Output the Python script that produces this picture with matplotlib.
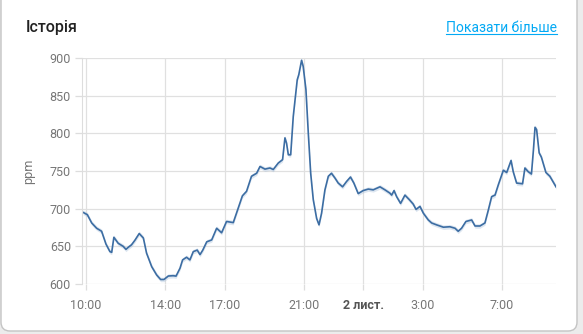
import matplotlib
matplotlib.use("Agg")
import matplotlib.pyplot as plt
import matplotlib.dates as mdates
import matplotlib.transforms as mtransforms
from matplotlib.patches import FancyBboxPatch
from matplotlib.lines import Line2D
import pandas as pd

plt.rcParams['font.family'] = ['Roboto', 'DejaVu Sans']

# CO2 readings: hours since midnight 1 Nov, ppm
hours = [9.86, 10.07, 10.29, 10.54, 10.79, 11.01, 11.21, 11.3, 11.41, 11.63,
         11.88, 12.02, 12.15, 12.3, 12.47, 12.69, 12.9, 13.06, 13.32, 13.57,
         13.77, 13.94, 14.16, 14.4, 14.55, 14.75, 14.88, 15.08, 15.25, 15.42,
         15.62, 15.76, 15.9, 16.1, 16.35, 16.6, 16.85, 17.1, 17.44, 17.69,
         17.9, 18.11, 18.36, 18.62, 18.79, 19.04, 19.29, 19.46, 19.71, 19.93,
         20.05, 20.13, 20.22, 20.34, 20.47, 20.67, 20.75, 20.8, 20.89, 20.97,
         21.11, 21.23, 21.35, 21.48, 21.65, 21.77, 21.9, 22.07, 22.24, 22.4,
         22.58, 22.74, 22.96, 23.16, 23.36, 23.53, 23.75, 24.0, 24.26, 24.51,
         24.68, 24.85, 25.1, 25.35, 25.44, 25.56, 25.69, 25.89, 26.11, 26.33,
         26.53, 26.67, 26.87, 27.04, 27.29, 27.46, 27.71, 28.05, 28.38, 28.64,
         28.8, 28.97, 29.19, 29.48, 29.65, 29.9, 30.15, 30.32, 30.49, 30.66,
         30.83, 31.08, 31.25, 31.47, 31.58, 31.75, 32.05, 32.17, 32.34, 32.5,
         32.6, 32.68, 32.76, 32.89, 33.0, 33.23, 33.43, 33.74]
ppm = [695, 692, 681, 674, 670, 653, 643, 642, 662, 654,
       650, 646, 649, 652, 658, 667, 661, 641, 623, 612,
       606, 606, 610.6, 611, 610.5, 621, 632, 635.5, 632, 643,
       645, 639, 645, 656, 658.5, 674, 668, 683, 681.5, 700.6,
       717, 723, 743, 747, 756, 752.5, 754, 752, 760.5, 765,
       794, 787, 771.5, 771.5, 822.5, 871, 878, 885, 897, 889,
       858, 800, 747, 712, 687, 678.5, 694, 725, 743, 747,
       740.5, 734, 729, 736, 742, 734, 720, 724, 726, 725,
       727, 729, 725, 720.6, 718, 724, 716, 707, 718, 712,
       706, 699, 703, 694, 685, 681, 678.5, 675.4, 676, 674,
       670, 674, 683, 685, 677, 677, 681, 698, 716, 718,
       732, 751, 748, 764, 749, 734, 733, 754, 749, 746,
       778, 808, 805, 774, 768.5, 748, 743, 729]

tick_hours = [10, 14, 17, 21, 24, 27, 31]
tick_labels = ['10:00', '14:00', '17:00', '21:00', '2 лист.', '3:00', '7:00']
y_ticks = [600, 650, 700, 750, 800, 850, 900]

base = pd.Timestamp('2023-11-01')
times = base + pd.to_timedelta(hours, unit='h')
tick_times = base + pd.to_timedelta(tick_hours, unit='h')

fig = plt.figure(figsize=(5.83, 3.34), dpi=100, facecolor='#ececec')

# card background
card = FancyBboxPatch((1, 3), 576, 400, boxstyle='round,pad=0,rounding_size=9',
                      transform=mtransforms.IdentityTransform(),
                      facecolor='white', edgecolor='#c4c4c4', linewidth=1, zorder=-10)
fig.patches.append(card)

ax = fig.add_axes([82 / 583, 50 / 334, 474 / 583, 226 / 334])
ax.set_facecolor('none')

ax.fill_between(times, [v - 3 for v in ppm], [v + 3 for v in ppm],
                color='#9fb9d6', alpha=0.35, linewidth=0)
ax.plot(times, ppm, color='#3c6da3', linewidth=1.2)

ax.set_xlim(base + pd.Timedelta(hours=9.8), base + pd.Timedelta(hours=33.74))
ax.set_ylim(600, 900)
ax.set_yticks(y_ticks)
ax.set_xticks(tick_times)
ax.set_xticklabels(tick_labels)

for s in ['top', 'right', 'bottom']:
    ax.spines[s].set_visible(False)
ax.spines['left'].set_color('#dddddd')
ax.grid(True, color='#e0e0e0', linewidth=0.9)
ax.set_axisbelow(True)
ax.tick_params(axis='both', colors='#dddddd', labelcolor='#767676', labelsize=9, width=0.9)
ax.tick_params(axis='y', length=5, pad=3)
ax.tick_params(axis='x', length=4.5, pad=6)
for lbl in ax.get_xticklabels():
    if lbl.get_text() == '2 лист.':
        lbl.set_fontweight('bold')
        lbl.set_color('#555555')

ax.set_ylabel('ppm', color='#767676', fontsize=9)
ax.yaxis.set_label_coords(-0.099, 0.5)

fig.text(26 / 583, (334 - 31.7) / 334, 'Історія', fontsize=11.5, fontweight='medium',
         color='#212121', ha='left', va='baseline')
link = fig.text(557 / 583, (334 - 31.5) / 334, 'Показати більше', fontsize=10,
                color='#03a9f4', ha='right', va='baseline')

fig.canvas.draw()
bb = link.get_window_extent()
uy = (334 - 33.5) / 334
fig.lines.append(Line2D([bb.x0 / 583, bb.x1 / 583], [uy, uy], color='#03a9f4',
                        linewidth=0.8, transform=fig.transFigure))

fig.savefig('out.png', dpi=100, facecolor=fig.get_facecolor())
